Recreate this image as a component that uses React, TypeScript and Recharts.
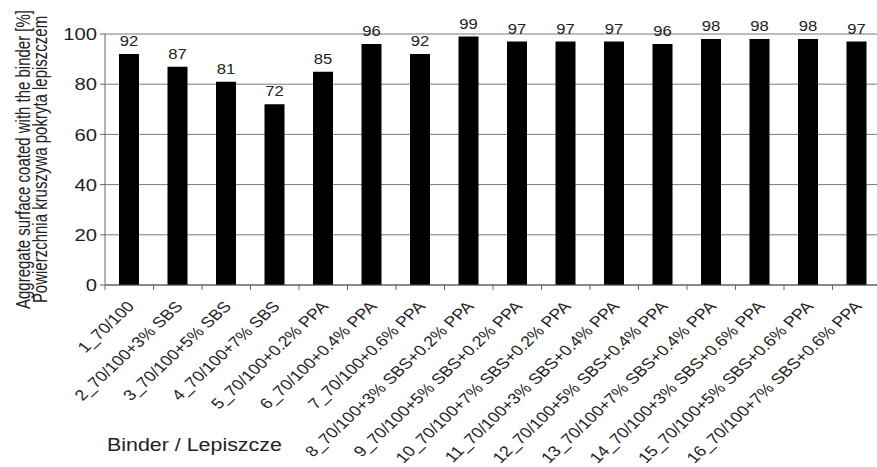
import { BarChart, Bar, XAxis, YAxis, CartesianGrid, LabelList } from 'recharts';

const binders = [
  '1_70/100',
  '2_70/100+3% SBS',
  '3_70/100+5% SBS',
  '4_70/100+7% SBS',
  '5_70/100+0.2% PPA',
  '6_70/100+0.4% PPA',
  '7_70/100+0.6% PPA',
  '8_70/100+3% SBS+0.2% PPA',
  '9_70/100+5% SBS+0.2% PPA',
  '10_70/100+7% SBS+0.2% PPA',
  '11_70/100+3% SBS+0.4% PPA',
  '12_70/100+5% SBS+0.4% PPA',
  '13_70/100+7% SBS+0.4% PPA',
  '14_70/100+3% SBS+0.6% PPA',
  '15_70/100+5% SBS+0.6% PPA',
  '16_70/100+7% SBS+0.6% PPA',
];
const coated = [92, 87, 81, 72, 85, 96, 92, 99, 97, 97, 97, 96, 98, 98, 98, 97];
const yTicks = [0, 20, 40, 60, 80, 100];

const data = binders.map((name, i) => ({ name, coated: coated[i] }));

// the source picture is stretched sideways a bit, so the texts are too
const SX = 1.19;
const FONT = '"Liberation Sans", Arial, sans-serif';
const TEXT = '#222';

const CHART_W = 881; // plot runs past the right edge in the reference
const CHART_H = 467;
const Y_W = 105;
const HALF_BAND = (CHART_W - Y_W) / binders.length / 2;

const XTick = ({ x, y, payload }: any) => (
  <g>
    <line x1={x - HALF_BAND} y1={y} x2={x - HALF_BAND} y2={y + 5} stroke="#666" />
    <text
      transform={`translate(${x + 6},${y + 22}) scale(${SX},1) rotate(-48)`}
      textAnchor="end"
      fontSize={15}
      fontFamily={FONT}
      fill={TEXT}
    >
      {payload.value}
    </text>
  </g>
);

const YTick = ({ x, y, payload }: any) => (
  <text
    transform={`translate(${x - 3},${y}) scale(${SX},1)`}
    textAnchor="end"
    dy="0.36em"
    fontSize={17}
    fontFamily={FONT}
    fill={TEXT}
  >
    {payload.value}
  </text>
);

const ValueLabel = ({ x, y, width, value }: any) => (
  <text
    transform={`translate(${x + width / 2},${y - 8}) scale(${SX},1)`}
    textAnchor="middle"
    fontSize={14}
    fontFamily={FONT}
    fill={TEXT}
  >
    {value}
  </text>
);

const YTitle = ({ viewBox }: any) => {
  const cy = viewBox.y + viewBox.height / 2;
  return (
    <g fontSize={15} fontFamily={FONT} fill={TEXT}>
      <text transform={`translate(30,${cy}) scale(1.3,1) rotate(-90)`} textAnchor="middle">
        Aggregate surface coated with the binder [%]
      </text>
      <text transform={`translate(47,${cy}) scale(1.3,1) rotate(-90)`} textAnchor="middle">
        Powierzchnia kruszywa pokryta lepiszczem
      </text>
    </g>
  );
};

const XTitle = () => (
  <text
    transform={`translate(107,451) scale(${SX},1)`}
    fontSize={18}
    fontFamily={FONT}
    fill={TEXT}
  >
    Binder / Lepiszcze
  </text>
);

export default function App() {
  return (
    <div style={{ width: 877, height: CHART_H, overflow: 'hidden', background: '#fff' }}>
      <style>{'body{margin:0}'}</style>
      <BarChart
        width={CHART_W}
        height={CHART_H}
        data={data}
        margin={{ top: 34, right: 0, bottom: 0, left: 0 }}
        barCategoryGap={0}
      >
        <CartesianGrid vertical={false} stroke="#7a7a7a" />
        <XAxis
          dataKey="name"
          interval={0}
          height={CHART_H - 285}
          tickSize={0}
          tickMargin={0}
          tick={<XTick />}
          axisLine={{ stroke: '#555' }}
          label={{ content: <XTitle /> }}
        />
        <YAxis
          width={Y_W}
          domain={[0, 100]}
          ticks={yTicks}
          tickSize={5}
          tickMargin={0}
          tick={<YTick />}
          axisLine={{ stroke: '#666' }}
          tickLine={{ stroke: '#666' }}
          label={{ content: <YTitle /> }}
        />
        <Bar dataKey="coated" fill="#000" barSize={20} isAnimationActive={false}>
          <LabelList dataKey="coated" content={<ValueLabel />} />
        </Bar>
      </BarChart>
    </div>
  );
}
